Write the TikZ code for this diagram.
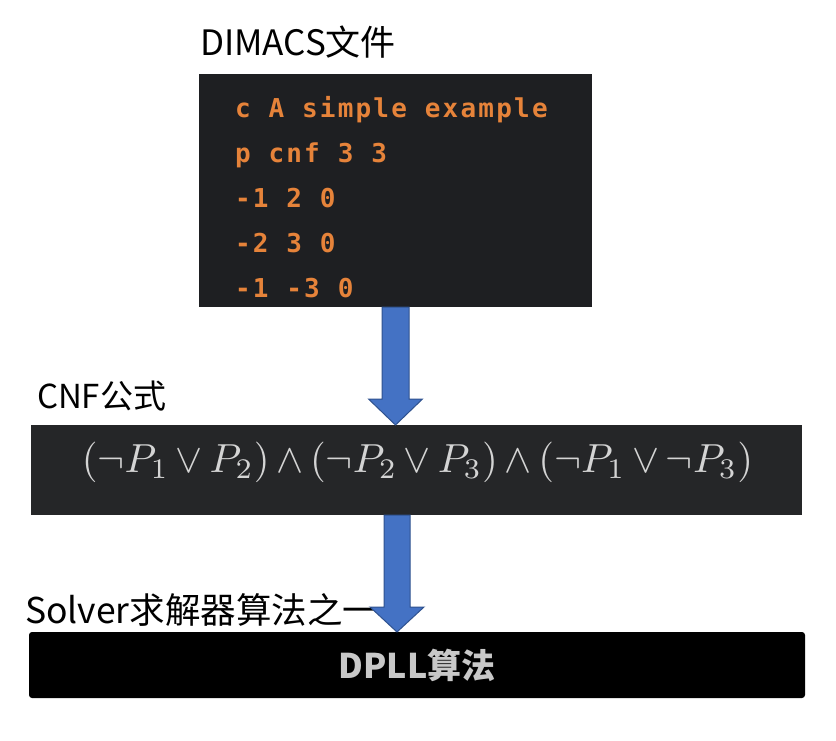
\documentclass[tikz,border=0pt]{standalone}
\usepackage[no-math]{fontspec}
\usepackage{graphicx}
\usetikzlibrary{calc}
\newfontfamily\cjk{Noto Sans CJK SC}
\newfontfamily\codefont{DejaVu Sans Mono}[LetterSpace=8.5]
\definecolor{dimbg}{HTML}{1E1F22}
\definecolor{cnfbg}{HTML}{252628}
\definecolor{codeor}{HTML}{E6833A}
\definecolor{arrfill}{HTML}{4472C4}
\definecolor{arrline}{HTML}{2F528F}
\definecolor{formcol}{HTML}{D4D4D4}
\definecolor{dpllcol}{HTML}{C8C8C8}
\begin{document}
\begin{tikzpicture}[x=1pt,y=-1pt,
  panel/.style={inner sep=0pt, outer sep=0pt, draw=none},
  lab/.style={inner sep=0pt, outer sep=0pt, anchor=base west, text=black},
  codeline/.style={inner sep=0pt, outer sep=0pt, anchor=base west, font=\codefont\bfseries\fontsize{26}{30}\selectfont, text=codeor},
  blockarrow/.style={fill=arrfill, draw=arrline, line width=1pt, line join=miter}]
\useasboundingbox (0,0) rectangle (836,741);
\fill[white] (0,0) rectangle (836,741);

% panels
\node[panel, fill=dimbg, minimum width=393pt, minimum height=233pt] (dimacs) at (395.5,190.5) {};
\node[panel, fill=cnfbg, minimum width=771pt, minimum height=90pt] (cnf) at (416.5,470) {};
\node[panel, fill=black, minimum width=776pt, minimum height=66pt, rounded corners=3pt,
      text=dpllcol, font=\cjk\bfseries\fontsize{34}{38}\selectfont] (dpll) at (417,665) {DPLL算法};

% labels
\node[lab, font=\cjk\fontsize{35}{40}\selectfont] (ldim) at (200,56) {DIMACS文件};
\node[lab, font=\cjk\fontsize{33}{38}\selectfont] (lcnf) at (37,408) {CNF公式};
\node[lab, font=\cjk\fontsize{35.5}{40}\selectfont] (lsol) at (25,623) {Solver求解器算法之一};

% code
\node[codeline] (c1) at (235,118) {c A simple example};
\node[codeline] (c2) at (235,162.8) {p cnf 3 3};
\node[codeline] (c3) at (235,207.6) {-1 2 0};
\node[codeline] (c4) at (235,252.4) {-2 3 0};
\node[codeline] (c5) at (235,297.2) {-1 -3 0};

% formula
\node[inner sep=0pt, text=formcol] (form) at (417.5,462.5)
  {\resizebox{671pt}{!}{\thinmuskip=2mu\medmuskip=3mu plus 1mu\thickmuskip=4mu$(\neg P_1\vee P_2)\wedge(\neg P_2\vee P_3)\wedge(\neg P_1\vee\neg P_3)$}};

% arrows
\coordinate (a1s) at (dimacs.south);
\coordinate (a1t) at (a1s |- cnf.north);
\path[blockarrow] ($(a1s)+(-13.5,0)$) -- ($(a1s)+(13.5,0)$) -- ($(a1t)+(13.5,-26)$)
  -- ($(a1t)+(27,-26)$) -- (a1t) -- ($(a1t)+(-27,-26)$) -- ($(a1t)+(-13.5,-26)$) -- cycle;
\coordinate (a2s) at ($(cnf.south)+(-19.5,0)$);
\coordinate (a2t) at (a2s |- dpll.north);
\path[blockarrow] ($(a2s)+(-13,0)$) -- ($(a2s)+(13,0)$) -- ($(a2t)+(13,-25)$)
  -- ($(a2t)+(27,-25)$) -- (a2t) -- ($(a2t)+(-27,-25)$) -- ($(a2t)+(-13,-25)$) -- cycle;
\end{tikzpicture}
\end{document}
